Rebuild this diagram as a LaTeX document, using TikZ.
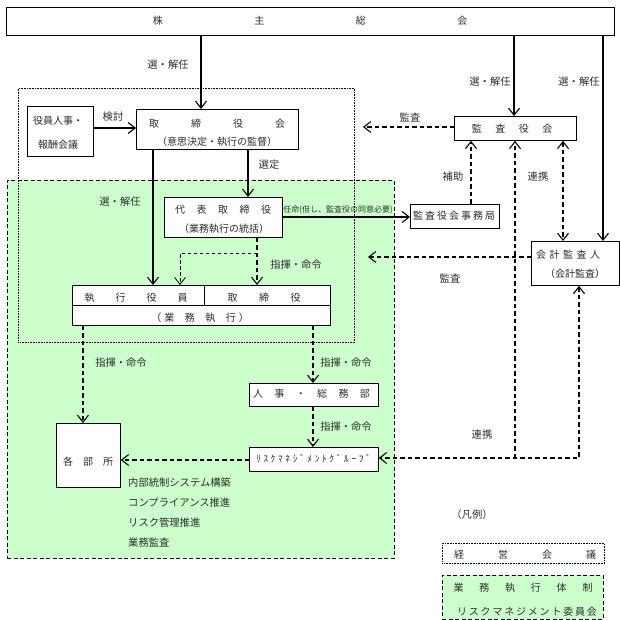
\documentclass[tikz,border=0pt]{standalone}
\usepackage{fontspec}
\setmainfont{Noto Sans CJK JP}
\usetikzlibrary{arrows.meta}
\definecolor{grn}{RGB}{204,255,204}
\definecolor{txt}{RGB}{45,45,45}
\makeatletter
\newcommand\sprd[2]{\def\sprd@gap{\hspace{#1}}\sprd@a#2\relax}
\def\sprd@a#1#2{#1\ifx\relax#2\else\sprd@gap\expandafter\sprd@a\fi#2}
\makeatother
\tikzset{
 bx/.style={draw=black,line width=0.8pt,fill=white,inner sep=0pt,anchor=north west},
 region/.style={draw=black,fill=grn,line width=0.9pt,dash pattern=on 4pt off 2.5pt,inner sep=0pt,anchor=north west},
 mgmt/.style={draw=black,line width=0.6pt,dash pattern=on 0.6pt off 1pt,inner sep=0pt,anchor=north west},
 tx/.style={text=txt,inner sep=0pt,font=\fontsize{10}{12}\selectfont},
 lb/.style={text=txt,inner sep=0pt,font=\fontsize{10.3}{12}\selectfont},
 sm/.style={text=txt,inner sep=0pt,font=\fontsize{8}{9}\selectfont},
 tip/.style={-{Straight Barb[length=7pt,width=11pt]}},
 sol/.style={line width=1.1pt,tip},
 dsh/.style={line width=1.1pt,dash pattern=on 4.5pt off 3pt,tip},
 dshb/.style={line width=1.1pt,dash pattern=on 4.5pt off 3pt,{Straight Barb[length=7pt,width=11pt]}-{Straight Barb[length=7pt,width=11pt]}},
}
\begin{document}
\begin{tikzpicture}[x=1pt,y=-1pt]
\useasboundingbox (0,0) rectangle (620,620);
% regions
\node[region,minimum width=387pt,minimum height=378pt] (execreg) at (7,180) {};
\node[mgmt,minimum width=336pt,minimum height=254pt] (mgmtreg) at (18,88) {};
% coordinates
\coordinate (xA) at (201,0);
\coordinate (xB) at (514,0);
\coordinate (xC) at (603,0);
\coordinate (xD) at (153,0);
\coordinate (xE) at (248,0);
\coordinate (xF) at (257,0);
\coordinate (xG) at (180,0);
\coordinate (xH) at (83,0);
\coordinate (xI) at (313,0);
\coordinate (xJ) at (471,0);
\coordinate (xK) at (563,0);
\coordinate (xL) at (515,0);
\coordinate (xM) at (579,0);
\coordinate (xDiv) at (204,0);
\coordinate (yDiv) at (0,305);
\coordinate (yBr) at (0,253);
\coordinate (yN) at (0,458);
\coordinate (yO) at (0,128);
\coordinate (yP) at (0,217);
\coordinate (yS) at (0,460);
\coordinate (audA) at (363,127);
\coordinate (audB) at (368,257);
% boxes
\node[bx,minimum width=608pt,minimum height=28pt] (agm) at (6,7) {};
\node[bx,minimum width=66pt,minimum height=50pt] (yakuin) at (27,106) {};
\node[bx,minimum width=162pt,minimum height=40pt] (board) at (136,109) {};
\node[bx,minimum width=118pt,minimum height=40pt] (daihyo) at (164,197) {};
\node[bx,minimum width=258pt,minimum height=40pt] (exec) at (72,285) {};
\node[bx,minimum width=129pt,minimum height=23pt] (jinji) at (249,383) {};
\node[bx,minimum width=129pt,minimum height=24pt] (risk) at (249,447) {};
\node[bx,minimum width=64pt,minimum height=64pt] (kakubu) at (56,423) {};
\node[bx,minimum width=89pt,minimum height=24pt] (jimu) at (410,204) {};
\node[bx,minimum width=122pt,minimum height=24pt] (kansa) at (454,116) {};
\node[bx,minimum width=88pt,minimum height=44pt] (kaikei) at (531,241) {};
\node[mgmt,minimum width=162pt,minimum height=20pt] (leg1) at (442,543) {};
\node[region,minimum width=161pt,minimum height=44pt] (leg2) at (442,575) {};
\draw[line width=0.8pt] (exec.west |- yDiv) -- (exec.east |- yDiv);
\draw[line width=0.8pt] (xDiv |- exec.north) -- (xDiv |- yDiv);
% box texts
\node[tx] (t_agm) at (310,21) {\sprd{91.5pt}{株主総会}};
\node[tx] (t_yak1) at (58,121) {役員人事・};
\node[tx] (t_yak2) at (58,145) {報酬会議};
\node[tx] (t_brd1) at (217,124) {\sprd{32pt}{取締役会}};
\node[tx] (t_brd2) at (217,142) {（意思決定・執行の監督）};
\node[tx] (t_dai1) at (223,210) {\sprd{11.5pt}{代表取締役}};
\node[tx] (t_dai2) at (224,229) {（業務執行の統括）};
\node[tx] (t_ex1) at (136,298) {\sprd{21pt}{執行役員}};
\node[tx] (t_ex2) at (264,298) {\sprd{21.5pt}{取締役}};
\node[tx] (t_ex3) at (200,318) {（\hspace{3pt}\sprd{10.5pt}{業務執行}\hspace{3pt}）};
\node[tx] (t_jin) at (311.5,394) {\sprd{11.4pt}{人事・総務部}};
\node[tx] (t_risk) at (313.5,459) {\fontsize{9.5}{11}\selectfont\sprd{2.6pt}{ﾘｽｸﾏﾈｼﾞﾒﾝﾄｸﾞﾙｰﾌﾟ}};
\node[tx] (t_kak) at (88,462) {\sprd{10pt}{各部所}};
\node[tx] (t_jimu) at (454,216) {\sprd{2pt}{監査役会事務局}};
\node[tx] (t_kansa) at (512,129) {\sprd{13.5pt}{監査役会}};
\node[tx] (t_kai1) at (568,255) {\sprd{3.5pt}{会計監査人}};
\node[tx] (t_kai2) at (575,274) {（会計監査）};
\node[tx] (t_leg1) at (525,555) {\sprd{34pt}{経営会議}};
\node[tx] (t_leg2a) at (523,588) {\sprd{15.8pt}{業務執行体制}};
\node[tx] (t_leg2b) at (527,612) {\sprd{1.8pt}{リスクマネジメント委員会}};
% connectors
\draw[sol] (agm.south -| xA) -- (board.north -| xA);
\draw[sol] (agm.south -| xB) -- (kansa.north -| xB);
\draw[sol] (agm.south -| xC) -- (kaikei.north -| xC);
\draw[sol] (yakuin.east |- yO) -- (board.west |- yO);
\draw[sol] (board.south -| xE) -- (daihyo.north -| xE);
\draw[sol] (board.south -| xD) -- (exec.north -| xD);
\draw[sol] (daihyo.east |- yP) -- (jimu.west |- yP);
\draw[dsh] (daihyo.south -| xF) -- (exec.north -| xF);
\draw[line width=0.8pt,dash pattern=on 3.5pt off 2.5pt,tip] (xF |- yBr) -- (xG |- yBr) -- (exec.north -| xG);
\draw[dsh] (exec.south -| xH) -- (kakubu.north -| xH);
\draw[dsh] (exec.south -| xI) -- (jinji.north -| xI);
\draw[dsh] (jinji.south -| xI) -- (risk.north -| xI);
\draw[dsh] (risk.west |- yS) -- (kakubu.east |- yS);
\draw[dsh] (kansa.west |- audA) -- (audA);
\draw[dsh] (jimu.north -| xJ) -- (kansa.south -| xJ);
\draw[dshb] (kansa.south -| xK) -- (kaikei.north -| xK);
\draw[dsh] (kaikei.west |- audB) -- (audB);
\draw[dshb] (kaikei.south -| xM) -- (xM |- yN) -- (risk.east |- yN);
\draw[dsh] (xL |- yN) -- (kansa.south -| xL);
% labels
\node[lb] (l_sen1) at (168,65) {選・解任};
\node[lb] (l_sen2) at (490,82) {選・解任};
\node[lb] (l_sen3) at (579,82) {選・解任};
\node[lb] (l_ken) at (113,117) {検討};
\node[lb] (l_sentei) at (269,165) {選定};
\node[lb] (l_sen4) at (120,202) {選・解任};
\node[lb] (l_shiki1) at (296,265) {指揮・命令};
\node[sm] (l_nin) at (338,210) {任命(但し、監査役の同意必要)};
\node[lb] (l_hojo) at (453,177) {補助};
\node[lb] (l_renk1) at (538,177) {連携};
\node[lb] (l_kan1) at (410,117) {監査};
\node[lb] (l_kan2) at (450,278) {監査};
\node[lb] (l_renk2) at (482,435) {連携};
\node[lb] (l_shiki2) at (121,363) {指揮・命令};
\node[lb] (l_shiki3) at (346,363) {指揮・命令};
\node[lb] (l_shiki4) at (346,427) {指揮・命令};
\node[lb,anchor=west] (l_list1) at (128,483) {内部統制システム構築};
\node[lb,anchor=west] (l_list2) at (128,503) {コンプライアンス推進};
\node[lb,anchor=west] (l_list3) at (128,523) {リスク管理推進};
\node[lb,anchor=west] (l_list4) at (128,543) {業務監査};
\node[lb] (l_hanrei) at (472,515) {（凡例）};
\end{tikzpicture}
\end{document}
